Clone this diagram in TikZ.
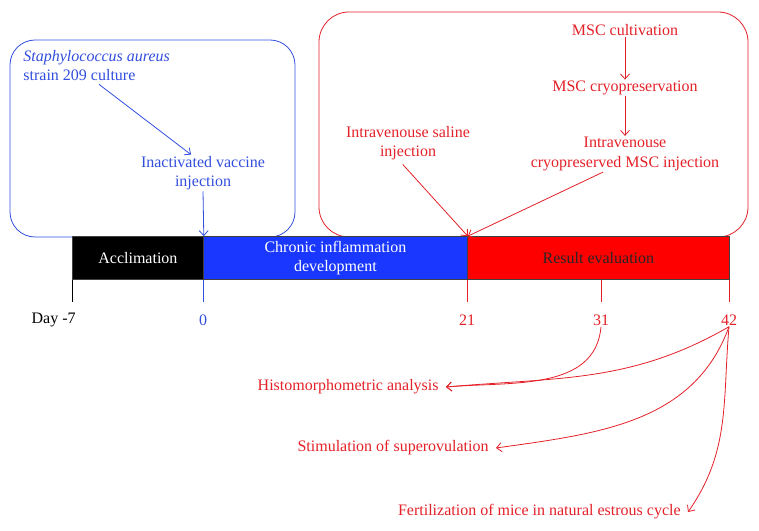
\documentclass[tikz,border=0pt]{standalone}
\usepackage{fontspec}
\setmainfont{Liberation Serif}
\usetikzlibrary{arrows.meta, calc}
\definecolor{myblue}{RGB}{50,78,222}
\definecolor{barblue}{RGB}{25,55,255}
\definecolor{myred}{RGB}{228,32,40}
\definecolor{barred}{RGB}{255,0,0}
\tikzset{>={Straight Barb[length=5pt,width=9pt]}}
\tikzset{txt/.style={font=\fontsize{16}{19.5}\selectfont, align=center, inner sep=1pt},
  bluetxt/.style={txt, text=myblue},
  redtxt/.style={txt, text=myred},
  seg/.style={draw=black!75, minimum height=43pt, inner sep=0pt, anchor=south west,
    font=\fontsize{16}{19.5}\selectfont, align=center}}

\begin{document}
\begin{tikzpicture}[x=1pt,y=1pt,line width=0.8pt]
    \useasboundingbox (0,0) rectangle (759,530);
    % frames
    \draw [myblue, rounded corners=25pt] (10,293) rectangle (295,490);
    \draw [myred, rounded corners=30pt] (319,293) rectangle (748,518);
    % time bar
    \node [seg, fill=black, text=white, minimum width=131pt] (acc) at (72,250) {Acclimation};
    \node [seg, fill=barblue, text=white, minimum width=264pt] (chr) at (203,250) {Chronic inflammation\\development};
    \node [seg, fill=barred, text=black!85, minimum width=262pt] (res) at (467,250) {Result evaluation};
    % days
    \node [txt, anchor=east] (d7) at (77,210) {Day -7};
    \node [bluetxt] (d0) at (203,210) {0};
    \node [redtxt] (d21) at (467,210) {21};
    \node [redtxt] (d31) at (601,210) {31};
    \node [redtxt] (d42) at (729,210) {42};
    \draw (acc.south west) -- ++(0,-22);
    \draw [myblue] (acc.south east) -- ++(0,-22);
    \draw [myred] (res.south west) -- ++(0,-22);
    \draw [myred] (res.south west -| d31) -- ++(0,-22);
    \draw [myred] (res.south east) -- ++(0,-22);
    % vaccine
    \node [bluetxt, align=left, anchor=north west] (sa) at (22,481) {\textit{Staphylococcus aureus}\\strain 209 culture};
    \node [bluetxt] (vac) at (203,357) {Inactivated vaccine\\injection};
    \draw [->, myblue, shorten <=3pt] (sa.south) -- ([xshift=-12pt]vac.north);
    \draw [->, myblue] (vac.south) -- (acc.north east);
    % MSC
    \node [redtxt] (cul) at (625,500) {MSC cultivation};
    \node [redtxt] (cryo) at (625,442) {MSC cryopreservation};
    \node [redtxt] (inj) at (625,376) {Intravenouse\\cryopreserved MSC injection};
    \node [redtxt] (sal) at (408,387) {Intravenouse saline\\injection};
    \draw [->, myred] (cul) -- (cryo);
    \draw [->, myred] (cryo) -- (inj);
    \draw [->, myred, shorten <=4pt] ([xshift=-8pt]sal.south) -- (chr.north east);
    \draw [->, myred] ([xshift=-22pt]inj.south) -- (chr.north east);
    % results
    \node [redtxt, anchor=east] (his) at (440,143) {Histomorphometric analysis};
    \node [redtxt, anchor=east] (sti) at (490,82) {Stimulation of superovulation};
    \node [redtxt, anchor=east] (fer) at (682,18) {Fertilization of mice in natural estrous cycle};
    \draw [->, myred] (d31.south) to [out=-95, in=5] ([xshift=6pt]his.east);
    \draw [->, myred] (d42.south) to [out=-150, in=5] ([xshift=6pt]his.east);
    \draw [->, myred] (d42.south) to [out=-110, in=8] ([xshift=6pt]sti.east);
    \draw [->, myred] (d42.south) to [out=-95, in=55] ([xshift=6pt]fer.east);
\end{tikzpicture}
\end{document}
